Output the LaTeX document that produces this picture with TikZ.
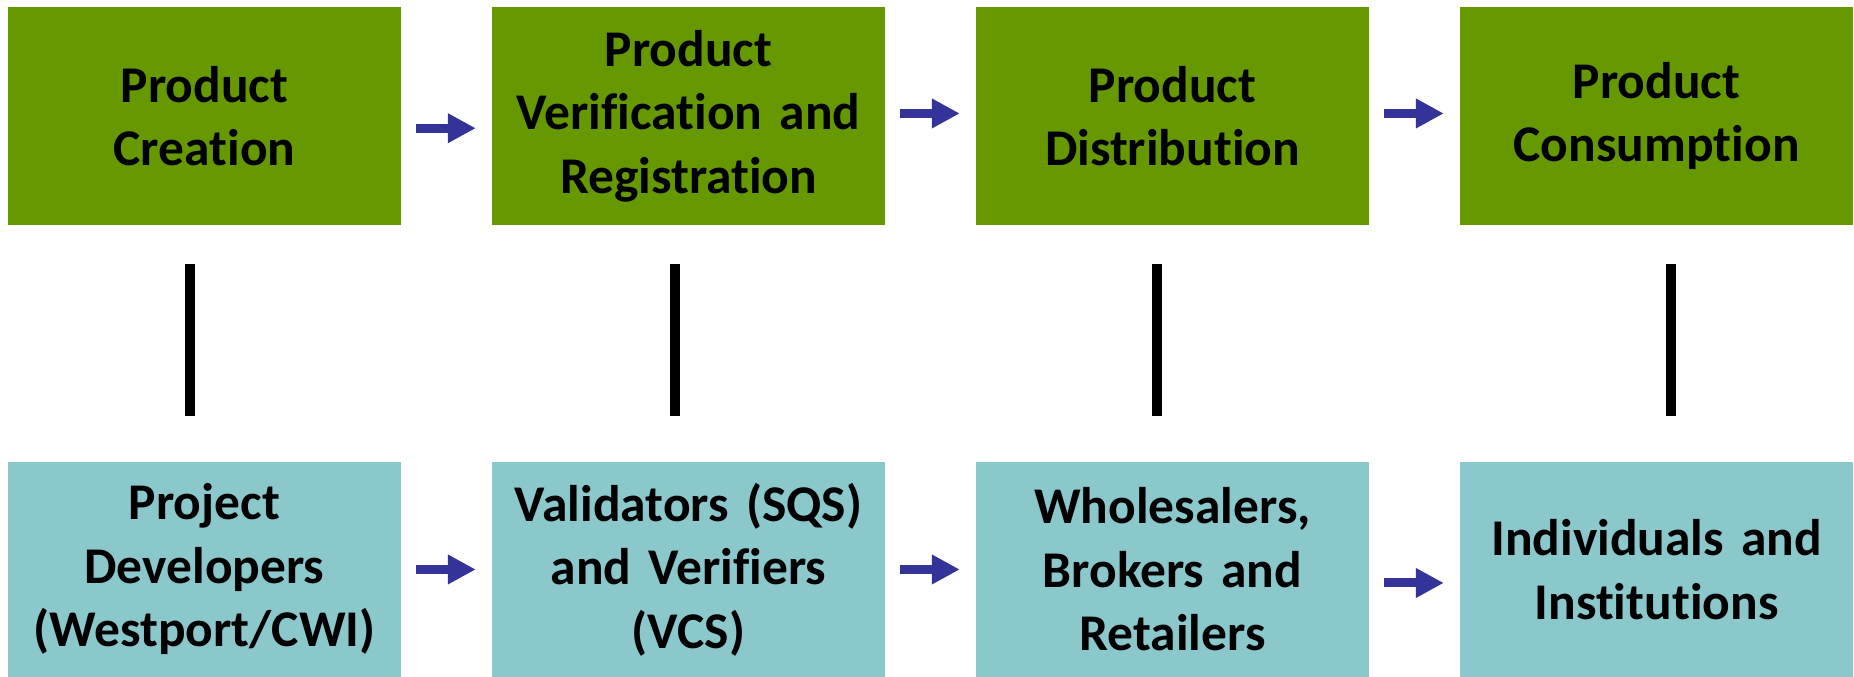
\documentclass[tikz,border=0pt]{standalone}
\usepackage{fontspec}
\setmainfont{Carlito}[Ligatures={NoCommon},WordSpace=0.8]
\usetikzlibrary{positioning,arrows.meta}
\definecolor{stagegreen}{RGB}{102,153,0}
\definecolor{actorblue}{RGB}{138,200,204}
\definecolor{flowblue}{RGB}{51,51,153}
\tikzset{
  stage/.style = {
    fill=stagegreen, inner sep=0pt,
    minimum width=157pt, minimum height=87.4pt, text width=155pt,
    align=center, font=\bfseries\fontsize{20.6}{25.4}\selectfont
  },
  actor/.style = {stage, fill=actorblue, minimum height=86pt},
  flow/.style = {->, flowblue, line width=3.6pt, shorten <=6pt, shorten >=6.4pt},
  link/.style = {line width=4pt, shorten <=15.4pt, shorten >=18pt}
}
\tikzset{>={Triangle[length=11.2pt,width=11.2pt]}}

\begin{document}
\begin{tikzpicture}[x=0.4pt,y=-0.4pt, node distance=36.2pt]
    \useasboundingbox (0,0) rectangle (1854,676);
    % stages of the product
    \node[stage] (creation) at (204.5,116.2) {Product\\Creation};
    \node[stage,right=of creation] (verification) {Product\\Verification and\\Registration};
    \node[stage,right=of verification] (distribution) {Product\\Distribution};
    \node[stage,right=of distribution] (consumption) {Product\\Consumption};
    % who does it
    \node[actor,below=94.2pt of creation] (developers) {Project\\Developers\\(Westport/CWI)};
    \node[actor,right=of developers] (validators) {Validators (SQS)\\and Verifiers\\(VCS)};
    \node[actor,right=of validators] (wholesalers) {Wholesalers,\\Brokers and\\Retailers};
    \node[actor,right=of wholesalers] (individuals) {Individuals and\\Institutions};
    \draw[flow] ([yshift=-4.8pt]creation.east) -- ([yshift=-4.8pt]verification.west);
    \draw[flow] ([yshift=1.1pt]verification.east) -- ([yshift=1.1pt]distribution.west);
    \draw[flow] ([yshift=1.1pt]distribution.east) -- ([yshift=1.1pt]consumption.west);
    \draw[flow] (developers.east) -- (validators.west);
    \draw[flow] (validators.east) -- (wholesalers.west);
    \draw[flow] ([yshift=-5.4pt]wholesalers.east) -- ([yshift=-5.4pt]individuals.west);
    \foreach \a/\b/\dx in {creation/developers/-5.8pt, verification/validators/-5.6pt,
                           distribution/wholesalers/-6.2pt, consumption/individuals/5.8pt}
      \draw[link] ([xshift=\dx]\a.south) -- ([xshift=\dx]\b.north);
\end{tikzpicture}
\end{document}
